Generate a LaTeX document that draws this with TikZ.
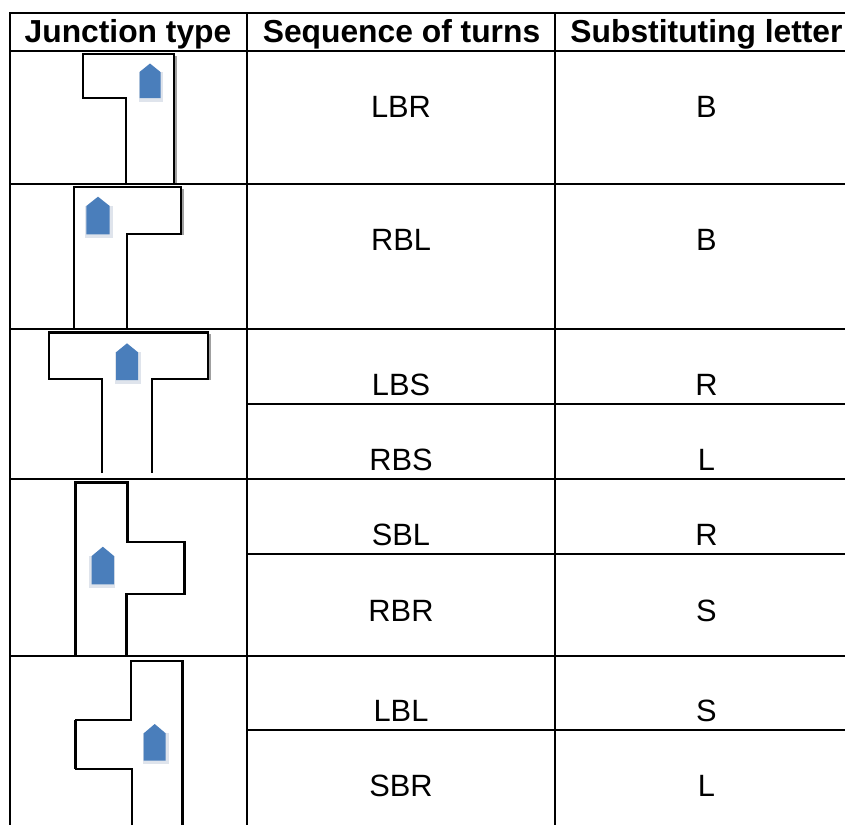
\documentclass[tikz,border=0pt]{standalone}
\usepackage{fontspec}
\setmainfont{Liberation Sans}
\definecolor{arrowblue}{HTML}{4A7EBB}
\definecolor{arrowshade}{HTML}{DFE4EC}
\definecolor{halo}{HTML}{A0A0A0}
\tikzset{
  grid line/.style={black,line width=2.3pt},
  road/.style={black,line width=2.4pt,line join=miter},
  road heavy/.style={black,line width=3.1pt,line join=miter},
  road halo/.style={halo,line width=1.4pt},
  arrow body/.style={fill=arrowblue,draw=none},
  arrow shade/.style={fill=arrowshade,draw=none},
  head cell/.style={anchor=base,inner sep=0pt,font=\fontsize{31.8}{32}\selectfont\bfseries},
  body cell/.style={anchor=base,inner sep=0pt,font=\fontsize{30.8}{31}\selectfont},
}
% left, right, top, shoulder, bottom
\newcommand{\housearrow}[5]{%
  \fill[arrow body] (#1,#5) -- (#1,#4) -- ({(#1+#2)/2},#3) -- (#2,#4) -- (#2,#5) -- cycle;}
\begin{document}
\begin{tikzpicture}[x=1pt,y=-1pt]
\useasboundingbox (0,0) rectangle (845,825);
\fill[white] (0,0) rectangle (845,825);

% junction 1
\fill[arrow shade] (138.5,72) rectangle (162.5,101.5);
\housearrow{139.5}{160.5}{63.5}{72}{98}
\draw[road halo] (175.8,56) -- (175.8,183);
\draw[road] (126,183) -- (126,98) -- (83,98) -- (83,54) -- (174,54) -- (174,183);

% junction 2
\fill[arrow shade] (85.3,206) rectangle (112.5,238);
\housearrow{86.3}{109.7}{196.7}{206}{234.3}
\draw[road halo] (183,189) -- (183,235);
\draw[road] (74,329) -- (74,187) -- (181,187) -- (181,234) -- (127,234) -- (127,329);

% junction 3
\fill[arrow shade] (115,352.3) rectangle (140.7,383.5);
\housearrow{116}{138}{343.3}{352.3}{380}
\draw[road halo] (209.8,334) -- (209.8,380);
\draw[road] (102,473) -- (102,379) -- (49,379) -- (49,332.3) -- (207.7,332.3) -- (207.7,379) -- (152,379) -- (152,473);
\draw[road heavy] (49,332.3) -- (207.7,332.3);

% junction 4
\fill[arrow shade] (88.7,556) rectangle (115,588);
\housearrow{91.7}{114}{546.7}{556}{584.3}
\draw[road] (75.3,655) -- (75.3,482.3) -- (127.3,482.3) -- (127.3,541.7) -- (184.3,541.7) -- (184.3,593.7) -- (126.3,593.7) -- (126.3,655);
\draw[road heavy] (184.3,541.7) -- (184.3,593.7);

% junction 5
\fill[arrow shade] (142.7,733.3) rectangle (169,764);
\housearrow{143.7}{165.7}{724}{733.3}{760.7}
\draw[road] (132,825) -- (132,769) -- (75.7,769) -- (75.7,720) -- (130.7,720) -- (130.7,660.7) -- (182.3,660.7) -- (182.3,825);
\draw[road heavy] (182.3,660.7) -- (182.3,825);
\draw[road heavy] (75.7,720) -- (75.7,769);

% table rules
\draw[grid line] (9,13) -- (845,13);
\draw[grid line] (10,51) -- (845,51);
\draw[grid line] (10,184) -- (845,184);
\draw[grid line] (10,329) -- (845,329);
\draw[grid line] (10,479) -- (845,479);
\draw[grid line] (10,655.7) -- (845,655.7);
\draw[grid line] (247,404) -- (845,404);
\draw[grid line] (247,554) -- (845,554);
\draw[grid line] (247,730) -- (845,730);
\draw[grid line] (10,12) -- (10,825);
\draw[grid line] (247,12) -- (247,825);
\draw[grid line] (555,12) -- (555,825);

% header
\node[head cell] (h1) at (128,42) {Junction type};
\node[head cell] (h2) at (401.5,42) {Sequence of turns};
\node[head cell] (h3) at (706.5,42) {Substituting letter};

% sequences
\node[body cell] (s1) at (401,117) {LBR};
\node[body cell] (s2) at (401,250) {RBL};
\node[body cell] (s3) at (401,395) {LBS};
\node[body cell] (s4) at (401,470) {RBS};
\node[body cell] (s5) at (401,545) {SBL};
\node[body cell] (s6) at (401,621) {RBR};
\node[body cell] (s7) at (401,721.5) {LBL};
\node[body cell] (s8) at (401,796.5) {SBR};

% letters
\node[body cell] (l1) at (706.5,117) {B};
\node[body cell] (l2) at (706.5,250) {B};
\node[body cell] (l3) at (706.5,395) {R};
\node[body cell] (l4) at (706.5,470) {L};
\node[body cell] (l5) at (706.5,545) {R};
\node[body cell] (l6) at (706.5,621) {S};
\node[body cell] (l7) at (706.5,721.5) {S};
\node[body cell] (l8) at (706.5,796.5) {L};
\end{tikzpicture}
\end{document}
